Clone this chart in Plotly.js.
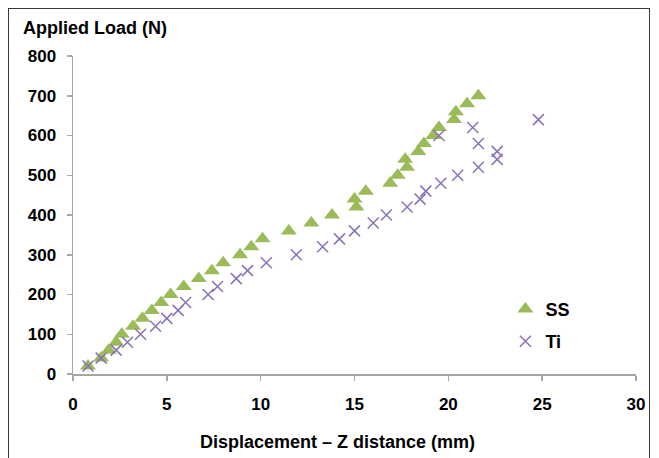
<!DOCTYPE html>
<html>
<head>
<meta charset="utf-8">
<script src="https://cdn.plot.ly/plotly-3.0.1.min.js"></script>
<style>
  html, body { margin: 0; padding: 0; background: #ffffff; }
  #wrap { position: relative; width: 659px; height: 458px; overflow: hidden; }
  #chart { width: 659px; height: 458px; }
  #frame { position: absolute; left: 8px; top: 8px; width: 642px; height: 470px;
           border: 1.5px solid #3a3a3a; pointer-events: none; box-sizing: border-box; }
</style>
</head>
<body>
<div id="wrap">
  <div id="chart"></div>
  <div id="frame"></div>
</div>
<script>
// Stainless steel (SS) series
const ssDisp = [0.8, 1.5, 1.9, 2.3, 2.6, 3.2, 3.7, 4.2, 4.7, 5.2, 5.9, 6.7, 7.4, 8.0, 8.9, 9.5, 10.1, 11.5, 12.7, 13.8,
                15.1, 15.0, 15.6, 16.9, 17.3, 17.8, 17.7, 18.4, 18.7, 19.2, 19.5, 20.3, 20.4, 21.0, 21.6];
const ssLoad = [20, 40, 60, 80, 100, 120, 140, 160, 180, 200, 220, 240, 260, 280, 300, 320, 340, 360, 380, 400,
                420, 440, 460, 480, 500, 520, 540, 560, 580, 600, 620, 640, 660, 680, 700];

// Titanium (Ti) series
const tiDisp = [0.8, 1.5, 2.3, 2.9, 3.6, 4.4, 5.0, 5.6, 6.0, 7.2, 7.7, 8.7, 9.3, 10.3, 11.9, 13.3, 14.2, 15.0, 16.0, 16.7,
                17.8, 18.5, 18.8, 19.6, 20.5, 21.6, 22.6, 22.6, 21.6, 19.5, 21.3, 24.8];
const tiLoad = [20, 40, 60, 80, 100, 120, 140, 160, 180, 200, 220, 240, 260, 280, 300, 320, 340, 360, 380, 400,
                420, 440, 460, 480, 500, 520, 540, 560, 580, 600, 620, 640];

const xTicks = [0, 5, 10, 15, 20, 25, 30];
const yTicks = [0, 100, 200, 300, 400, 500, 600, 700, 800];

const seriesNames = ['SS', 'Ti'];
const yTitle = 'Applied Load (N)';
const xTitle = 'Displacement \u2013 Z distance (mm)';

const FONT = 'Liberation Sans, Arial, sans-serif';

const traces = [
  {
    x: ssDisp, y: ssLoad, name: seriesNames[0], type: 'scatter', mode: 'markers',
    legendgroup: 'a',
    marker: { symbol: 'triangle-up', size: 14, color: '#9bbb59', line: { width: 0 } }
  },
  {
    x: tiDisp, y: tiLoad, name: seriesNames[1], type: 'scatter', mode: 'markers',
    legendgroup: 'b',
    marker: { symbol: 'x-thin-open', size: 11, color: '#8a72b8', line: { width: 1.5, color: '#8a72b8' } }
  }
];

const axisCommon = {
  showgrid: false, zeroline: false, showline: true, linecolor: '#a6a6a6', linewidth: 1.5,
  ticks: 'outside', ticklen: 5, tickcolor: '#a6a6a6', tickwidth: 1.5,
  tickfont: { family: FONT, size: 17, color: '#000000', weight: 'bold' },
  fixedrange: true
};

const layout = {
  width: 659, height: 458,
  margin: { l: 73, r: 23, t: 56, b: 84 },
  paper_bgcolor: '#ffffff', plot_bgcolor: '#ffffff',
  showlegend: true,
  legend: {
    x: 0.768, y: 0.262, xanchor: 'left', yanchor: 'top',
    font: { family: FONT, size: 18, color: '#000000', weight: 'bold' },
    tracegroupgap: 6, bgcolor: 'rgba(0,0,0,0)', itemwidth: 30
  },
  xaxis: Object.assign({}, axisCommon, {
    range: [0, 30], tickvals: xTicks, ticktext: xTicks.map(String), ticklabelstandoff: 9
  }),
  yaxis: Object.assign({}, axisCommon, {
    range: [0, 800], tickvals: yTicks, ticktext: yTicks.map(String), ticklabelstandoff: 7
  }),
  annotations: [
    { text: yTitle, xref: 'paper', yref: 'paper', x: -0.092, y: 1.087, xanchor: 'left', yanchor: 'middle',
      showarrow: false, font: { family: FONT, size: 18, color: '#000000', weight: 'bold' } },
    { text: xTitle, xref: 'paper', yref: 'paper', x: 0.469, y: -0.213, xanchor: 'center', yanchor: 'middle',
      showarrow: false, font: { family: FONT, size: 18, color: '#000000', weight: 'bold' } }
  ]
};

Plotly.newPlot('chart', traces, layout, { displayModeBar: false, staticPlot: true });
</script>
</body>
</html>
